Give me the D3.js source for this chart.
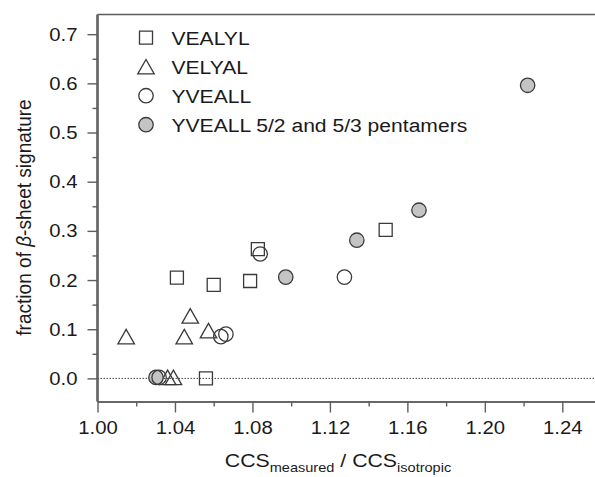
<!DOCTYPE html>
<html>
<head>
<meta charset="utf-8">
<script src="https://cdn.jsdelivr.net/npm/d3@7/dist/d3.min.js"></script>
<style>
  html, body { margin: 0; padding: 0; background: #fff; }
  svg { display: block; font-family: "Liberation Sans", Arial, sans-serif; }
</style>
</head>
<body>
<svg id="chart" width="595" height="477"></svg>
<script>
// Peptide series: CCS ratio (x) vs fraction of beta-sheet signature (y)
const vealylX = [1.0828, 1.0410, 1.0600, 1.0788, 1.0560, 1.1488];
const vealylY = [0.263, 0.205, 0.190, 0.198, 0.000, 0.302];

const velyalX = [1.0148, 1.0448, 1.0479, 1.0573, 1.0362, 1.0392];
const velyalY = [0.085, 0.085, 0.127, 0.097, 0.002, 0.002];

const yveallX = [1.0840, 1.0637, 1.0663, 1.1275, 1.0318];
const yveallY = [0.253, 0.085, 0.090, 0.206, 0.002];

const pentX = [1.0302, 1.0972, 1.1339, 1.1660, 1.2221];
const pentY = [0.002, 0.206, 0.281, 0.342, 0.596];

const xTicks = [1.00, 1.04, 1.08, 1.12, 1.16, 1.20, 1.24];
const yTicks = [0.0, 0.1, 0.2, 0.3, 0.4, 0.5, 0.6, 0.7];

const legendLabels = ["VEALYL", "VELYAL", "YVEALL", "YVEALL 5/2 and 5/3 pentamers"];

const svg = d3.select("#chart");
const W = 595;
const plotLeft = 97.5, plotTop = 14.5, plotBottom = 401.5;
const stretch = 1.1; // text is set slightly wide

const x = d3.scaleLinear().domain([1.0, 1.263]).range([plotLeft, plotLeft + 0.263 * 1936.7]);
const y = d3.scaleLinear().domain([-0.047, 0.74]).range([plotBottom, plotTop]);

const axisColor = "#5e5e5e";
const markColor = "#3a3a3a";
const textColor = "#1a1a1a";

// dotted zero line
svg.append("line")
  .attr("x1", plotLeft).attr("x2", W)
  .attr("y1", y(0)).attr("y2", y(0))
  .attr("stroke", "#444").attr("stroke-width", 1)
  .attr("stroke-dasharray", "1.5,1.5");

// top frame line
svg.append("line")
  .attr("x1", plotLeft).attr("x2", W)
  .attr("y1", plotTop).attr("y2", plotTop)
  .attr("stroke", axisColor).attr("stroke-width", 1.6);

// minor + major ticks on x axis
const xAxisMinor = d3.axisBottom(x)
  .tickValues(d3.range(1.02, 1.2601, 0.04))
  .tickSize(5).tickSizeOuter(0).tickFormat("");
const xAxis = d3.axisBottom(x)
  .tickValues(xTicks).tickSize(11).tickSizeOuter(0).tickPadding(8)
  .tickFormat(d3.format(".2f"));

const gxm = svg.append("g").attr("transform", `translate(0,${plotBottom})`).call(xAxisMinor);
const gx = svg.append("g").attr("transform", `translate(0,${plotBottom})`).call(xAxis);

const yAxisMinor = d3.axisLeft(y)
  .tickValues(d3.range(0.05, 0.7001, 0.1))
  .tickSize(5).tickSizeOuter(0).tickFormat("");
const yAxis = d3.axisLeft(y)
  .tickValues(yTicks).tickSize(10).tickSizeOuter(0).tickPadding(9)
  .tickFormat(d3.format(".1f"));

const gym = svg.append("g").attr("transform", `translate(${plotLeft},0)`).call(yAxisMinor);
const gy = svg.append("g").attr("transform", `translate(${plotLeft},0)`).call(yAxis);

[gxm, gx, gym, gy].forEach(g => {
  g.selectAll("path.domain").attr("stroke", axisColor).attr("stroke-width", 1.6);
  g.selectAll(".tick line").attr("stroke", axisColor).attr("stroke-width", 1.4);
  g.selectAll(".tick text").attr("fill", textColor)
    .style("font-size", "19px").style("font-family", "'Liberation Sans', Arial, sans-serif");
});
gx.select("path.domain").attr("d", `M${plotLeft},0.5H${W}`);
gy.select("path.domain").attr("d", `M-0.5,${plotTop}V${plotBottom}`);

// widen tick labels about their anchor points
gx.selectAll(".tick text").attr("transform", `scale(${stretch - 0.03},1)`);
gy.selectAll(".tick text").each(function () {
  const t = d3.select(this);
  t.attr("transform", `translate(-20,0) scale(${stretch - 0.03},1)`).attr("x", 0);
});

// marker shapes
const sq = d3.symbol().type(d3.symbolSquare).size(169)();
function triPath(w, h) {
  return `M0,${-h / 2}L${w / 2},${h / 2}L${-w / 2},${h / 2}Z`;
}
const tri = triPath(16.5, 14.5);

function drawSeries(xs, ys, kind, fill) {
  const g = svg.append("g");
  xs.forEach((xv, i) => {
    const px = x(xv), py = y(ys[i]);
    let el;
    if (kind === "circle") {
      el = g.append("circle").attr("cx", px).attr("cy", py).attr("r", 7.2);
    } else {
      el = g.append("path").attr("d", kind === "square" ? sq : tri)
        .attr("transform", `translate(${px},${py})`);
    }
    el.attr("fill", fill).attr("stroke", markColor).attr("stroke-width", 1.3);
  });
}

drawSeries(vealylX, vealylY, "square", "none");
drawSeries(velyalX, velyalY, "triangle", "none");
drawSeries(pentX, pentY, "circle", "#c4c4c4");
drawSeries(yveallX, yveallY, "circle", "none");

// legend
const legendY = [37.7, 66.7, 95.7, 124.7];
const legendKinds = ["square", "triangle", "circle", "circle"];
const legendFills = ["none", "none", "none", "#c4c4c4"];
legendLabels.forEach((lab, i) => {
  const cy = legendY[i];
  const cx = 146;
  if (legendKinds[i] === "circle") {
    svg.append("circle").attr("cx", cx).attr("cy", cy).attr("r", 7.2)
      .attr("fill", legendFills[i]).attr("stroke", markColor).attr("stroke-width", 1.3);
  } else {
    svg.append("path").attr("d", legendKinds[i] === "square" ? sq : tri)
      .attr("transform", `translate(${cx},${cy})`)
      .attr("fill", "none").attr("stroke", markColor).attr("stroke-width", 1.3);
  }
  svg.append("text")
    .attr("transform", `translate(171.5,${cy + 7}) scale(${stretch + 0.01},1)`)
    .attr("fill", textColor).style("font-size", "19px").text(lab);
});

// y-axis title
const yt = svg.append("text")
  .attr("transform", `translate(31,217.5) rotate(-90) scale(1.03,${stretch})`)
  .attr("text-anchor", "middle").attr("fill", textColor).style("font-size", "18.5px");
yt.append("tspan").text("fraction of ");
yt.append("tspan").style("font-style", "italic").text("β");
yt.append("tspan").text("-sheet signature");

// x-axis title
const xt = svg.append("text")
  .attr("transform", `translate(338,467) scale(${stretch + 0.02},1)`)
  .attr("text-anchor", "middle").attr("fill", textColor).style("font-size", "19px");
xt.append("tspan").text("CCS");
xt.append("tspan").attr("dy", 5).style("font-size", "13px").text("measured");
xt.append("tspan").attr("dy", -5).text(" / CCS");
xt.append("tspan").attr("dy", 5).style("font-size", "13px").text("isotropic");
</script>
</body>
</html>
